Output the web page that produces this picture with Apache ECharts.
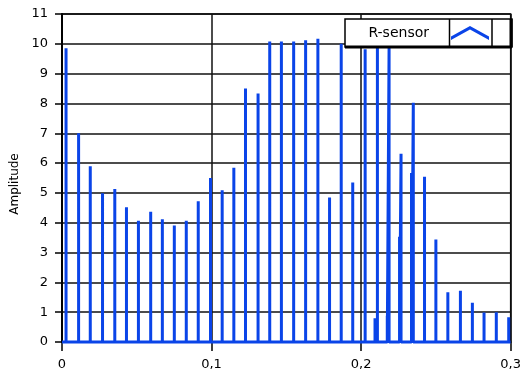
<!DOCTYPE html>
<html>
<head>
<meta charset="utf-8">
<script src="https://cdn.jsdelivr.net/npm/echarts@6/dist/echarts.min.js"></script>
<style>html,body{margin:0;padding:0;background:#fff}#c{width:524px;height:374px}</style>
</head>
<body>
<div id="c"></div>
<script>
// Main spectral lines: frequency (x) and amplitude
const mainFreq = [0.0027, 0.0111, 0.0189, 0.0271, 0.0353, 0.0431, 0.0511, 0.0593, 0.0671, 0.0751,
                  0.0831, 0.0911, 0.0993, 0.1071, 0.1149, 0.1227, 0.1311, 0.1389, 0.1467, 0.1549,
                  0.1629, 0.1711, 0.1789, 0.1867, 0.1944, 0.2027, 0.2109, 0.2187, 0.2267, 0.2349,
                  0.2424, 0.2500, 0.2580, 0.2664, 0.2744, 0.2822, 0.2904, 0.2987];
const mainAmp  = [9.85, 7.00, 5.89, 4.99, 5.13, 4.52, 4.07, 4.37, 4.12, 3.91,
                  4.07, 4.72, 5.50, 5.09, 5.84, 8.50, 8.33, 10.08, 10.08, 10.08,
                  10.12, 10.17, 4.85, 10.00, 5.35, 9.82, 9.88, 9.88, 6.31, 8.02,
                  5.54, 3.44, 1.67, 1.72, 1.32, 0.99, 1.00, 0.83];
// Secondary (side) lines next to some main lines
const sideFreq = [0.2093, 0.2175, 0.2257, 0.2337];
const sideAmp  = [0.80, 0.88, 3.53, 5.67];

const xTickLabels = ['0', '0,1', '0,2', '0,3'];
const yTickLabels = ['0','1','2','3','4','5','6','7','8','9','10','11'];
const seriesName = 'R-sensor';

// build stem-like line data (library scales place everything)
const lines = mainFreq.map((f, i) => [f, mainAmp[i]])
  .concat(sideFreq.map((f, i) => [f, sideAmp[i]]))
  .sort((a, b) => a[0] - b[0]);
const lineData = [[0, 0]];
lines.forEach(([f, a]) => { lineData.push([f, 0], [f, a], [f, 0]); });
lineData.push([0.3, 0]);

const blue = '#0a44e8';
const fontFam = 'DejaVu Sans';

const chart = echarts.init(document.getElementById('c'), null, {renderer: 'canvas'});
chart.setOption({
  animation: false,
  backgroundColor: '#fff',
  grid: {left: 62, right: 12, top: 14, bottom: 32, show: true, borderColor: '#000', borderWidth: 1.5, backgroundColor: '#fff'},
  xAxis: {
    type: 'value', min: 0, max: 0.3, interval: 0.1,
    axisLine: {show: true, lineStyle: {color: '#000', width: 1.5}},
    axisTick: {show: true, length: 9, lineStyle: {color: '#000', width: 1.5}},
    axisLabel: {color: '#000', fontFamily: fontFam, fontSize: 13, margin: 16,
      formatter: (v, i) => xTickLabels[i]},
    splitLine: {show: true, lineStyle: {color: '#111', width: 1.5}}
  },
  yAxis: {
    type: 'value', min: 0, max: 11, interval: 1,
    name: 'Amplitude', nameLocation: 'middle', nameGap: 40,
    nameTextStyle: {color: '#000', fontFamily: fontFam, fontSize: 12, padding: [0, 12, 0, 0]},
    axisLine: {show: true, lineStyle: {color: '#000', width: 2}},
    axisTick: {show: true, length: 7, lineStyle: {color: '#000', width: 1.5}},
    axisLabel: {color: '#000', fontFamily: fontFam, fontSize: 13, margin: 14,
      formatter: (v, i) => yTickLabels[i]},
    splitLine: {show: true, lineStyle: {color: '#111', width: 1.5}}
  },
  legend: {
    show: true, right: 35, top: 26, padding: 0, z: 20,
    align: 'right',
    itemWidth: 38, itemHeight: 14,
    icon: 'path://M0,10.5 L19,0 L38,10.5 L38,14 L19,3.6 L0,14 Z',
    textStyle: {color: '#000', fontFamily: fontFam, fontSize: 14, padding: [0, 17, 0, 0]},
    data: [seriesName]
  },
  graphic: [
    {type: 'rect', z: 10, shape: {x: 345, y: 19, width: 167, height: 28},
     style: {fill: '#fff', stroke: '#000', lineWidth: 1.5}},
    {type: 'line', z: 11, shape: {x1: 345, y1: 47, x2: 512, y2: 47}, style: {stroke: '#000', lineWidth: 3}},
    {type: 'line', z: 11, shape: {x1: 511, y1: 19, x2: 511, y2: 47}, style: {stroke: '#000', lineWidth: 3}},
    {type: 'line', z: 11, shape: {x1: 449.5, y1: 19, x2: 449.5, y2: 47}, style: {stroke: '#000', lineWidth: 1.5}},
    {type: 'line', z: 11, shape: {x1: 492, y1: 19, x2: 492, y2: 47}, style: {stroke: '#000', lineWidth: 1.5}}
  ],
  series: [{
    name: seriesName,
    type: 'line',
    data: lineData,
    showSymbol: false,
    symbol: 'none',
    clip: false,
    color: blue,
    lineStyle: {color: blue, width: 3, join: 'bevel'},
    z: 5
  }]
});
</script>
</body>
</html>
